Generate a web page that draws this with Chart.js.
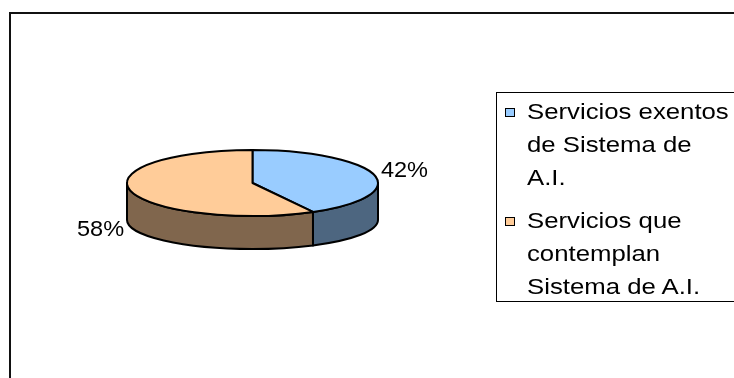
<!DOCTYPE html>
<html>
<head>
<meta charset="utf-8">
<script src="https://cdn.jsdelivr.net/npm/chart.js@4/dist/chart.umd.min.js"></script>
<style>
body { margin: 0; background: #fff; width: 734px; height: 378px; overflow: hidden; position: relative; font-family: "Liberation Sans", Arial, sans-serif; }
#frame { position: absolute; left: 9px; top: 12px; width: 800px; height: 500px; border-left: 2.5px solid #111; border-top: 2.5px solid #111; }
#chart { position: absolute; left: 0; top: 0; }
#legend { position: absolute; left: 496px; top: 92px; width: 300px; height: 210px; border: 1px solid #000; box-sizing: border-box; padding-top: 2px; }
.item { display: flex; align-items: flex-start; }
.item + .item { margin-top: 10px; }
.box { width: 8px; height: 7px; border: 1px solid #000; margin: 13px 0 0 8px; flex: none; }
.text { margin-left: 12px; font-size: 22px; line-height: 33px; color: #000; transform: scaleX(1.17); transform-origin: 0 0; white-space: nowrap; }
</style>
</head>
<body>
<div id="frame"></div>
<canvas id="chart" width="734" height="378"></canvas>
<div id="legend"></div>
<script>
// data
var labels = [['Servicios exentos', 'de Sistema de', 'A.I.'], ['Servicios que', 'contemplan', 'Sistema de A.I.']];
var values = [42, 58];

// styles
var topColors = ['#99CCFF', '#FFCC99'];
var sideColors = ['#4D6680', '#80664D'];
var TILT = 0.263;
var DEPTH = 37;
var BOTTOM_SQUASH = 0.88;

var total = values.reduce(function (a, b) { return a + b; }, 0);

// fake 3d pie: squash the library's arcs into ellipses and add a side wall
var pie3d = {
    id: 'pie3d',
    beforeDatasetsDraw: function (chart) {
        var ctx = chart.ctx;
        var arcs = chart.getDatasetMeta(0).data;
        var cx = arcs[0].x, cy = arcs[0].y, rx = arcs[0].outerRadius, ry = rx * TILT;
        ctx.save();
        ctx.lineWidth = 2;
        ctx.strokeStyle = '#000';
        ctx.lineJoin = 'round';

        // front side wall
        arcs.forEach(function (a, i) {
            var s = Math.max(a.startAngle, 0), e = Math.min(a.endAngle, Math.PI);
            if (e <= s) return;
            ctx.beginPath();
            ctx.ellipse(cx, cy, rx, ry, 0, s, e);
            ctx.ellipse(cx, cy + DEPTH, rx, ry * BOTTOM_SQUASH, 0, e, s, true);
            ctx.closePath();
            ctx.fillStyle = sideColors[i];
            ctx.fill();
            ctx.stroke();
        });

        // top face
        arcs.forEach(function (a, i) {
            ctx.beginPath();
            ctx.moveTo(cx, cy);
            ctx.ellipse(cx, cy, rx, ry, 0, a.startAngle, a.endAngle);
            ctx.closePath();
            ctx.fillStyle = topColors[i];
            ctx.fill();
            ctx.stroke();
        });

        // percent labels
        ctx.fillStyle = '#000';
        ctx.font = '22px "Liberation Sans", Arial, sans-serif';
        ctx.textAlign = 'center';
        ctx.textBaseline = 'middle';
        arcs.forEach(function (a, i) {
            var mid = (a.startAngle + a.endAngle) / 2;
            var x = cx + rx * 1.25 * Math.cos(mid);
            var y = cy + ry * 1.6 * Math.sin(mid) + (Math.sin(mid) > 0 ? DEPTH - 4 : 0);
            var txt = Math.round(values[i] / total * 100) + '%';
            ctx.save();
            ctx.translate(x, y);
            ctx.scale(1.07, 1);
            ctx.fillText(txt, 0, 1);
            ctx.restore();
        });

        ctx.restore();
        return false;
    }
};

new Chart(document.getElementById('chart'), {
    type: 'pie',
    data: {
        labels: labels,
        datasets: [{
            data: values,
            backgroundColor: topColors,
            borderWidth: 0
        }]
    },
    options: {
        responsive: false,
        animation: false,
        events: [],
        devicePixelRatio: 1,
        layout: { padding: { left: 127, right: 356, top: 57.5, bottom: 69.5 } },
        plugins: {
            legend: { display: false },
            tooltip: { enabled: false }
        }
    },
    plugins: [pie3d]
});

// html legend, built from the same arrays
var legend = document.getElementById('legend');
labels.forEach(function (lines, i) {
    var item = document.createElement('div');
    item.className = 'item';
    var box = document.createElement('div');
    box.className = 'box';
    box.style.background = topColors[i];
    var text = document.createElement('div');
    text.className = 'text';
    text.innerHTML = lines.join('<br>');
    item.appendChild(box);
    item.appendChild(text);
    legend.appendChild(item);
});
</script>
</body>
</html>
